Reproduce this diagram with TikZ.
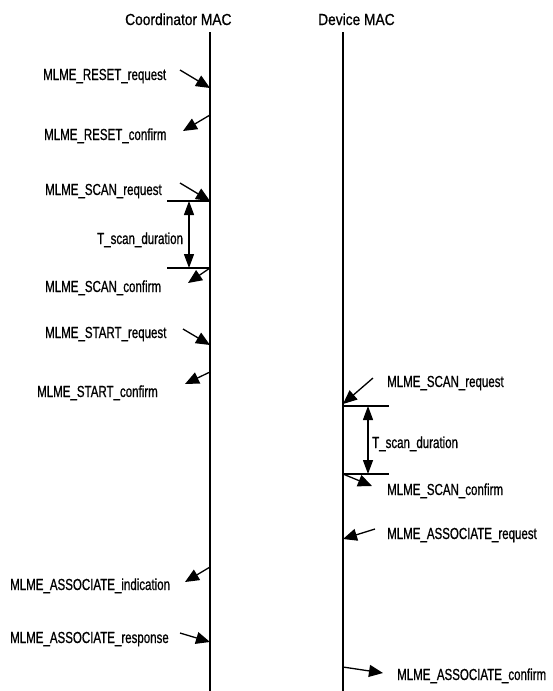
\documentclass[tikz,border=0pt]{standalone}
\usepackage{fontspec}
\setmainfont{Liberation Sans}[FakeStretch=0.72, FakeBold=0.8]
\newfontfamily\titlefont{Liberation Sans}[FakeStretch=0.86, FakeBold=0.8]
\usepackage{tikz}
\usetikzlibrary{arrows.meta, positioning, calc}

\begin{document}
\begin{tikzpicture}[x=1pt, y=-1pt,
  every node/.style={font=\fontsize{16}{18}\selectfont, inner sep=0pt},
  title/.style={font=\titlefont\fontsize{16}{18}\selectfont, anchor=base west},
  lbl/.style={anchor=base west},
  lifeline/.style={line width=1.6pt},
  msg/.style={-{Triangle[length=14pt,width=12pt]}, line width=1.3pt},
  dur/.style={{Triangle[length=14pt,width=10pt]}-{Triangle[length=14pt,width=10pt]}, line width=1.3pt},
  tick/.style={line width=1.1pt},
]
\useasboundingbox (0,0) rectangle (553,691);

%% ── LIFELINES ─────────────────────────────────────────────────────────
\node[title] (coordtitle) at (125,25) {Coordinator MAC};
\node[title] (devtitle)   at (318,25) {Device MAC};

\coordinate (ctop) at (210,32);
\coordinate (cbot) at (210,691);
\coordinate (dtop) at (343,32);
\coordinate (dbot) at (343,691);
\draw[lifeline] (ctop) -- (cbot);
\draw[lifeline] (dtop) -- (dbot);

%% ── COORDINATOR SIDE ──────────────────────────────────────────────────
\node[lbl] (resetreq)  at (43,80)  {MLME\_RESET\_request};
\node[lbl] (resetconf) at (44,140) {MLME\_RESET\_confirm};
\node[lbl] (scanreq)   at (45,195) {MLME\_SCAN\_request};
\node[lbl] (scanconf)  at (45,292) {MLME\_SCAN\_confirm};
\node[lbl] (startreq)  at (45,338) {MLME\_START\_request};
\node[lbl] (startconf) at (37,397) {MLME\_START\_confirm};
\node[lbl] (assocind)  at (10,590) {MLME\_ASSOCIATE\_indication};
\node[lbl] (assocrsp)  at (10,643) {MLME\_ASSOCIATE\_response};

\coordinate (r1a) at (180,70);  \coordinate (r1b) at (210,88);
\coordinate (r2a) at (210,115); \coordinate (r2b) at (183,131);
\coordinate (s1a) at (180,183); \coordinate (s1b) at (210,201);
\coordinate (s2a) at (210,268); \coordinate (s2b) at (188,283);
\coordinate (t1a) at (183,329); \coordinate (t1b) at (210,345);
\coordinate (t2a) at (210,372); \coordinate (t2b) at (185,384);
\coordinate (a1a) at (210,567); \coordinate (a1b) at (185,582);
\coordinate (a2a) at (180,633); \coordinate (a2b) at (210,642);

\draw[msg] (r1a) -- (r1b);
\draw[msg] (r2a) -- (r2b);
\draw[msg] (s1a) -- (s1b);
\draw[msg] (s2a) -- (s2b);
\draw[msg] (t1a) -- (t1b);
\draw[msg] (t2a) -- (t2b);
\draw[msg] (a1a) -- (a1b);
\draw[msg] (a2a) -- (a2b);

%% scan duration (coordinator)
\coordinate (cdur1) at (167,201);
\coordinate (cdur2) at (167,268);
\draw[tick] (cdur1) -- (s1b);
\draw[tick] (cdur2) -- (s2a);
\coordinate (cdurtop) at (189,201);
\coordinate (cdurbot) at (189,268);
\draw[dur] (cdurtop) -- (cdurbot);
\node[lbl] (cscandur) at (97,244) {T\_scan\_duration};

%% ── DEVICE SIDE ───────────────────────────────────────────────────────
\node[lbl] (dscanreq)  at (387,387) {MLME\_SCAN\_request};
\node[lbl] (dscanconf) at (387,495) {MLME\_SCAN\_confirm};
\node[lbl] (dassocreq) at (387,539) {MLME\_ASSOCIATE\_request};
\node[lbl] (dassocconf) at (397,680) {MLME\_ASSOCIATE\_confirm};

\coordinate (ds1a) at (373,378); \coordinate (ds1b) at (343,404);
\coordinate (ds2a) at (343,474); \coordinate (ds2b) at (372,486);
\coordinate (da1a) at (375,529); \coordinate (da1b) at (343,539);
\coordinate (da2a) at (343,667); \coordinate (da2b) at (383,673);

\draw[msg] (ds1a) -- (ds1b);
\draw[msg] (ds2a) -- (ds2b);
\draw[msg] (da1a) -- (da1b);
\draw[msg] (da2a) -- (da2b);

%% scan duration (device)
\coordinate (ddur1a) at (343,406); \coordinate (ddur1b) at (389,406);
\coordinate (ddur2b) at (389,474);
\draw[tick] (ddur1a) -- (ddur1b);
\draw[tick] (ds2a) -- (ddur2b);
\coordinate (ddurtop) at (368,406);
\coordinate (ddurbot) at (368,474);
\draw[dur] (ddurtop) -- (ddurbot);
\node[lbl] (dscandur) at (372,448) {T\_scan\_duration};

\end{tikzpicture}
\end{document}
